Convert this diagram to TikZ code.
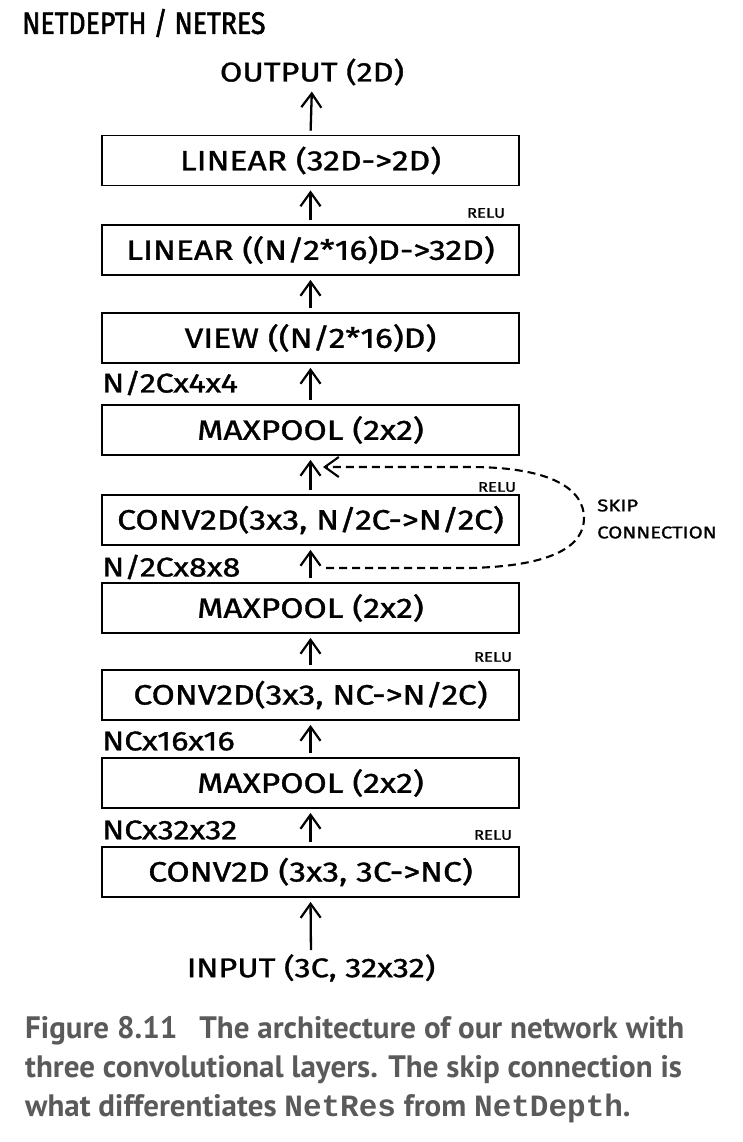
\documentclass[tikz,border=0pt]{standalone}
\usepackage{fontspec}
\setmainfont{Fira Sans}[FakeStretch=1.2, FakeBold=1.2]
\newfontfamily\titlefont{Fira Sans}[FakeStretch=0.86, FakeBold=1.8]
\newfontfamily\capfont{PT Sans}
\newfontfamily\capmono{Liberation Mono}
\usetikzlibrary{arrows.meta}
\definecolor{capgray}{HTML}{5A5A5A}
\begin{document}
\begin{tikzpicture}[x=1pt,y=-1pt,
  layer/.style={draw, line width=1.8pt, minimum width=417pt, minimum height=50pt,
    inner sep=0pt, font=\fontsize{28}{28}\selectfont},
  dimlabel/.style={anchor=west, inner sep=0pt, font=\fontsize{27}{27}\selectfont},
  relulabel/.style={inner sep=0pt, font=\fontsize{14}{14}\selectfont},
  endlabel/.style={inner sep=0pt, font=\fontsize{27}{27}\selectfont},
  flow/.style={line width=2.3pt, -{Straight Barb[length=14pt, width=20pt, line width=2.2pt]},
    shorten <=4pt, shorten >=4pt},
  skip/.style={line width=2.1pt, dash pattern=on 8pt off 5pt,
    -{Straight Barb[length=14pt, width=20pt, line width=2.1pt]}},
  caption/.style={anchor=west, inner sep=0pt, text=capgray,
    font=\capfont\bfseries\fontsize{31}{31}\selectfont}
]
\useasboundingbox (0,0) rectangle (742,1142);

% title
\node[anchor=west, inner sep=0pt, font=\titlefont\fontsize{31}{31}\selectfont] (title) at (22,23) {NETDEPTH / NETRES};

% layer stack, from output down to input
\node[endlabel] (out) at (312,72) {OUTPUT (2D)};
\node[layer] (b1) at (310.5,160.5) {LINEAR (32D->2D)};
\node[layer] (b2) at (310.5,250) {LINEAR ((N/2*16)D->32D)};
\node[layer] (b3) at (310.5,338) {VIEW ((N/2*16)D)};
\node[layer] (b4) at (310.5,430) {MAXPOOL (2x2)};
\node[layer] (b5) at (310.5,520) {CONV2D(3x3, N/2C->N/2C)};
\node[layer] (b6) at (310.5,608) {MAXPOOL (2x2)};
\node[layer] (b7) at (310.5,695) {CONV2D(3x3, NC->N/2C)};
\node[layer] (b8) at (310.5,783) {MAXPOOL (2x2)};
\node[layer] (b9) at (310.5,872) {CONV2D (3x3, 3C->NC)};
\node[endlabel] (in) at (311,968) {INPUT (3C, 32x32)};

% tensor shapes and activations
\node[dimlabel] (d1) at (102,383) {N/2Cx4x4};
\node[dimlabel] (d2) at (102,567) {N/2Cx8x8};
\node[dimlabel] (d3) at (102,741) {NCx16x16};
\node[dimlabel] (d4) at (102,830) {NCx32x32};
\node[relulabel] (r1) at (486,213) {RELU};
\node[relulabel] (r2) at (497,487) {RELU};
\node[relulabel] (r3) at (493,657) {RELU};
\node[relulabel] (r4) at (493,835) {RELU};

% data flow
\draw[flow] (in.north) -- (b9.south);
\draw[flow] (b9.north) -- (b8.south);
\draw[flow] (b8.north) -- (b7.south);
\draw[flow] (b7.north) -- (b6.south);
\draw[flow] (b6.north) -- (b5.south);
\draw[flow] (b5.north) -- (b4.south);
\draw[flow] (b4.north) -- (b3.south);
\draw[flow] (b3.north) -- (b2.south);
\draw[flow] (b2.north) -- (b1.south);
\draw[flow, shorten >=6pt] (b1.north) -- (out.south);

% skip connection around the second convolution
\coordinate (skipfrom) at (326,568);
\coordinate (skipto) at (323,467);
\draw[skip] (skipfrom) -- (470,568)
  .. controls (555,566) and (584,545) .. (584,518)
  .. controls (584,490) and (553,467) .. (470,467) -- (skipto);
\node[anchor=west, align=left, inner sep=0pt, font=\fontsize{17}{27}\selectfont] (skiplabel) at (597,519)
  {SKIP\\CONNECTION};

% caption
\node[caption] (c1) at (25,1031) {Figure 8.11\hspace{22pt}The architecture of our network with};
\node[caption] (c2) at (25,1070) {three convolutional layers. The skip connection is};
\node[caption] (c3) at (25,1108) {what differentiates {\capmono NetRes} from {\capmono NetDepth}.};
\end{tikzpicture}
\end{document}
